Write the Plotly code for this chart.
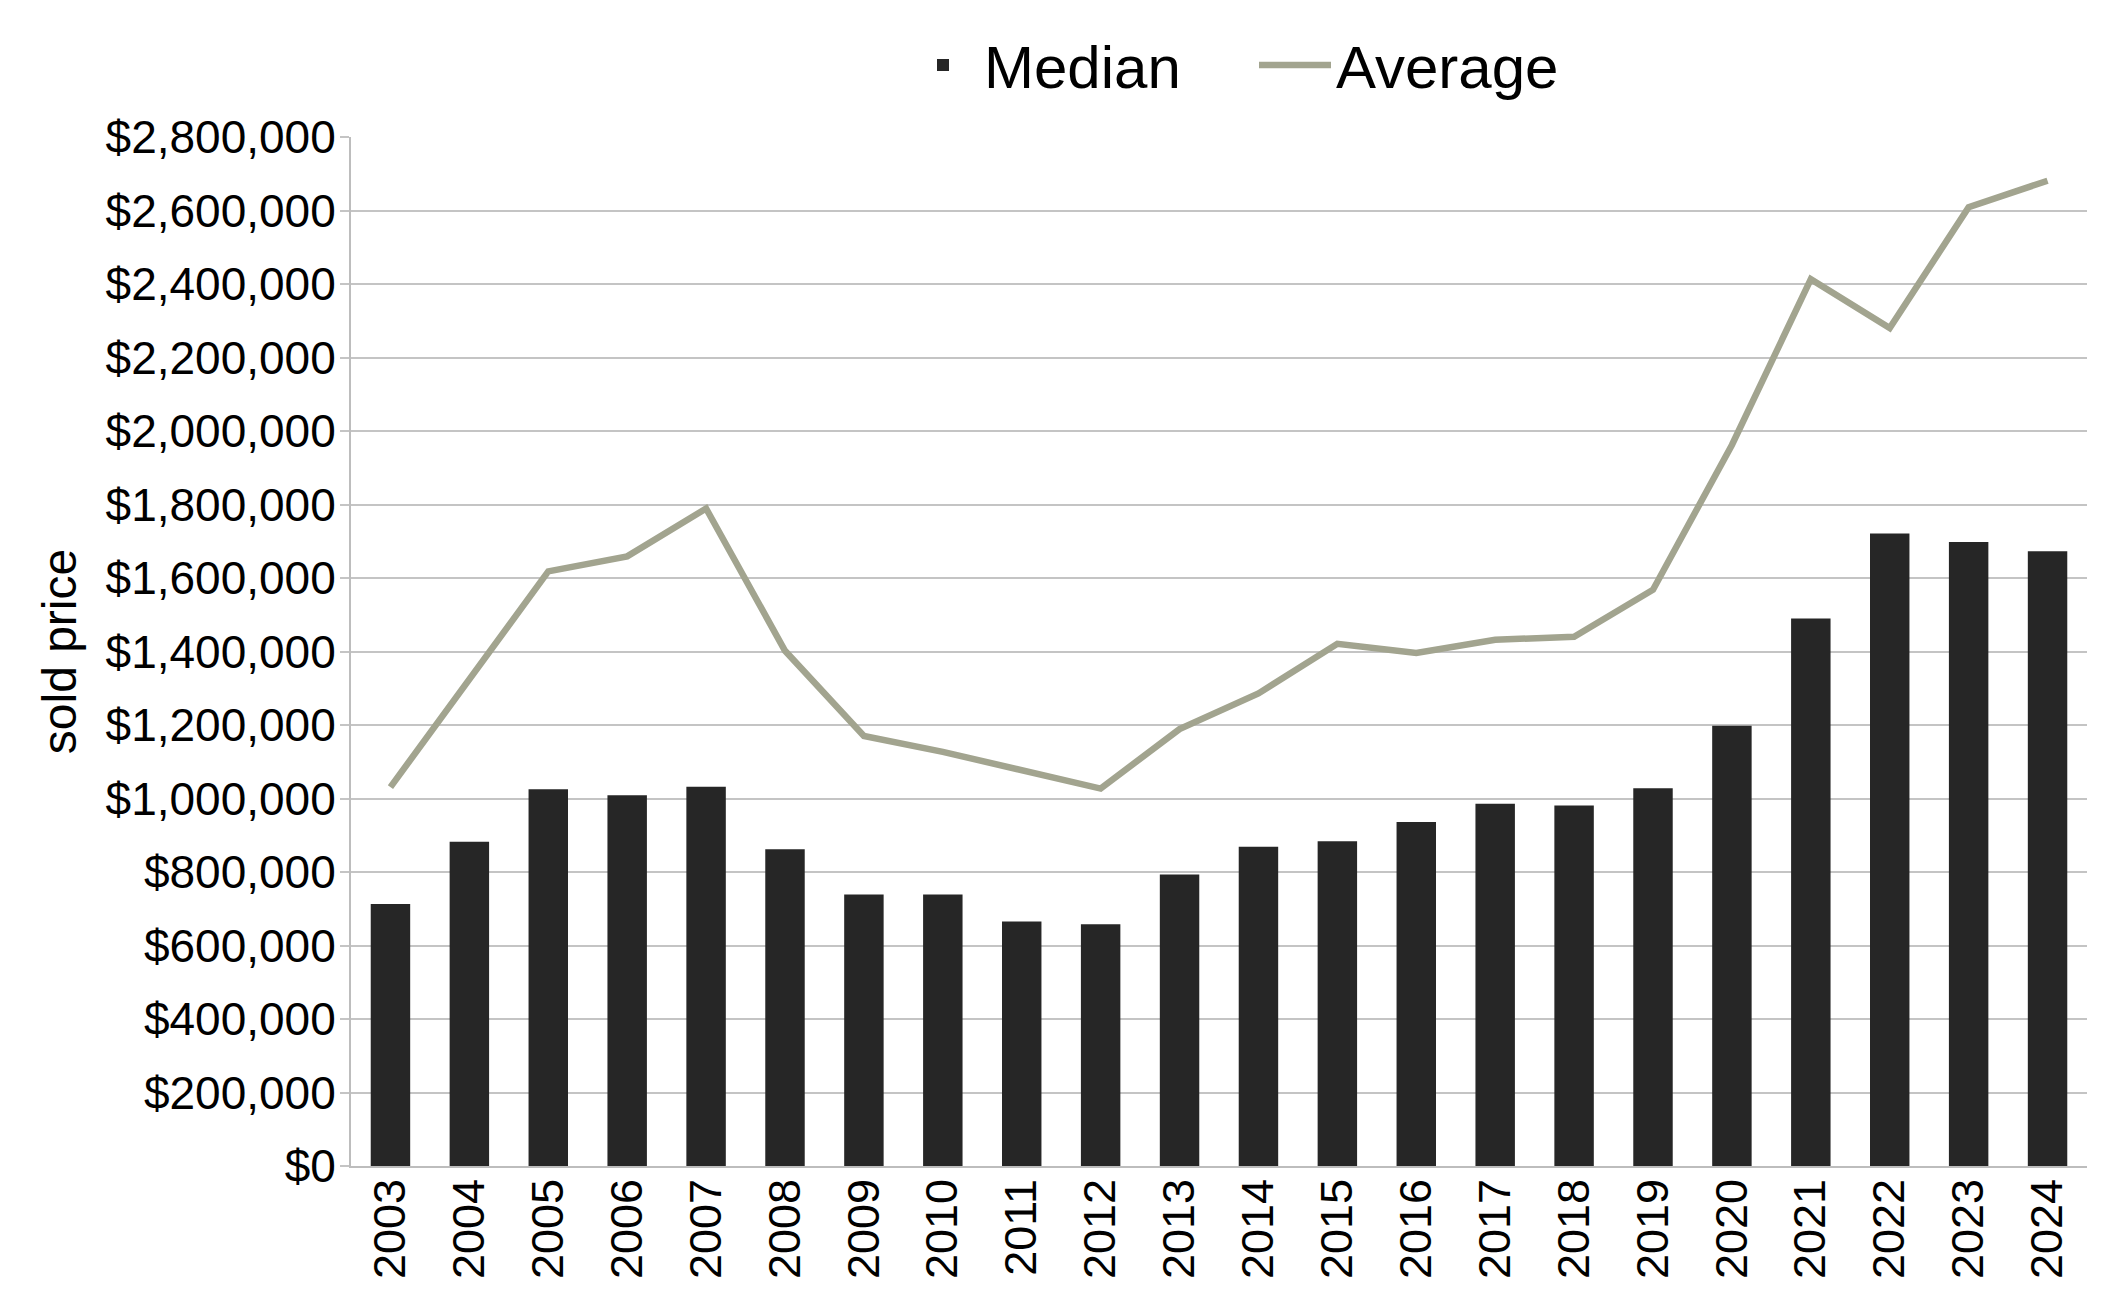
import plotly.graph_objects as go

years = [str(y) for y in range(2003, 2025)]
median = [713000, 882000, 1025000, 1009000, 1032000, 862000, 739000, 739000, 665000, 658000,
          793000, 869000, 884000, 936000, 986000, 981000, 1028000, 1198000, 1490000, 1721000,
          1698000, 1673000]
average = [1031000, 1322000, 1618000, 1659000, 1789000, 1402000, 1170000, 1127000, 1077000, 1027000,
           1189000, 1286000, 1421000, 1396000, 1432000, 1440000, 1568000, 1962000, 2413000, 2280000,
           2609000, 2681000]

FONT = "Liberation Sans"

fig = go.Figure()
fig.add_trace(go.Bar(x=years, y=median, name="Median", marker=dict(color="#262626", line=dict(width=0))))
fig.add_trace(go.Scatter(x=years, y=average, name="Average", mode="lines",
                         line=dict(color="#a2a48f", width=6.5)))

fig.update_layout(
    width=2099, height=1290,
    margin=dict(l=343, r=20, t=123, b=132),
    paper_bgcolor="white", plot_bgcolor="white",
    bargap=0.5,
    font=dict(family=FONT, color="#000000"),
    legend=dict(orientation="h", x=0.3174, xanchor="left", y=1.07, yanchor="middle",
                font=dict(size=60, family=FONT), itemwidth=72, traceorder="normal",
                entrywidth=265),
    showlegend=True,
)
fig.update_yaxes(range=[0, 2800000], dtick=200000, tickprefix="$", tickformat=",d",
                 showgrid=True, gridcolor="#c4c4c4", gridwidth=1.5,
                 showline=True, linecolor="#bdbdbd", linewidth=2,
                 ticks="outside", ticklen=9, tickcolor="#c4c4c4", tickwidth=1.5,
                 tickfont=dict(size=46, family=FONT), ticklabelstandoff=-5,
                 title=dict(text="sold price", font=dict(size=48, family=FONT), standoff=14),
                 zeroline=False)
fig.update_xaxes(showline=True, linecolor="#bdbdbd", linewidth=2, tickangle=-90,
                 tickfont=dict(size=45, family=FONT), ticks="", showgrid=False,
                 ticklabelstandoff=-7)

fig.write_html("out.html")
